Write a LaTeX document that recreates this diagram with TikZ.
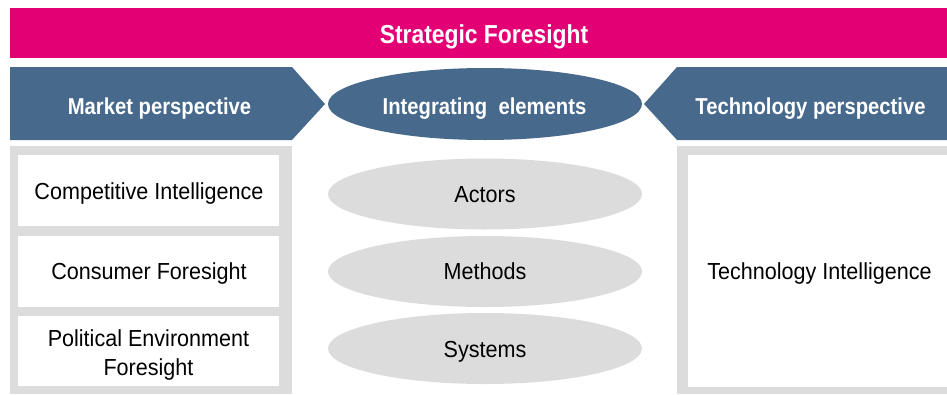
\documentclass[tikz,border=0pt]{standalone}
\usepackage{fontspec}
\usetikzlibrary{shapes.geometric}
\newfontfamily\regf[FakeStretch=0.93]{Liberation Sans}
\newfontfamily\boldf[FakeStretch=0.88]{Liberation Sans Bold}
\definecolor{tmag}{HTML}{E20074}
\definecolor{tblue}{HTML}{46698C}
\definecolor{tgrey}{HTML}{DCDCDC}
\tikzset{
  regtxt/.style={font=\regf\fontsize{23.2}{28.3}\selectfont, text=black, align=center, inner sep=0pt, anchor=base},
  boldtxt/.style={font=\boldf\fontsize{23}{27}\selectfont, text=white, align=center, inner sep=0pt, anchor=base},
  greyell/.style={ellipse, fill=tgrey, minimum width=314pt, minimum height=71pt, inner sep=0pt},
  whitebox/.style={fill=white},
}
\begin{document}
\begin{tikzpicture}[x=1pt,y=-1pt]
\useasboundingbox[fill=white] (0,0) rectangle (947,394);
% title bar
\fill[tmag] (10,8) rectangle (947,58);
\node[boldtxt, font=\boldf\fontsize{26}{30}\selectfont] (title) at (484,43) {Strategic Foresight};
% left pentagon
\fill[tblue] (10,67) -- (292,67) -- (325,104) -- (292,140) -- (10,140) -- cycle;
\node[boldtxt] (market) at (159.5,114) {Market perspective};
% right pentagon
\fill[tblue] (947,67) -- (677,67) -- (644,104) -- (677,140) -- (947,140) -- cycle;
\node[boldtxt] (tech) at (810.5,114) {Technology perspective};
% integrating ellipse
\node[ellipse, fill=tblue, minimum width=314pt, minimum height=72pt, inner sep=0pt] (integ) at (485,104) {};
\node[boldtxt] (integt) at (484.5,114) {Integrating\ \ elements};
% left grey box
\fill[tgrey] (10,146) rectangle (292,394);
\fill[whitebox] (18,155) rectangle (279,226);
\fill[whitebox] (18,236) rectangle (279,307);
\fill[whitebox] (18,316) rectangle (279,386);
\node[regtxt] (ci) at (149,199.3) {Competitive Intelligence};
\node[regtxt] (cf) at (149,279.5) {Consumer Foresight};
\node[regtxt] (pef) at (148.5,375) {Political Environment\\Foresight};
% grey ellipses
\node[greyell] (actors) at (485,194) {};
\node[regtxt] (actorst) at (485,202.3) {Actors};
\node[greyell] (methods) at (485,271.5) {};
\node[regtxt] (methodst) at (485,279.5) {Methods};
\node[greyell] (systems) at (485,348.5) {};
\node[regtxt] (systemst) at (485,357) {Systems};
% right grey box
\fill[tgrey] (677,146) rectangle (947,394);
\fill[whitebox] (688,155) rectangle (947,387);
\node[regtxt] (ti) at (819.5,279.5) {Technology Intelligence};
\end{tikzpicture}
\end{document}
